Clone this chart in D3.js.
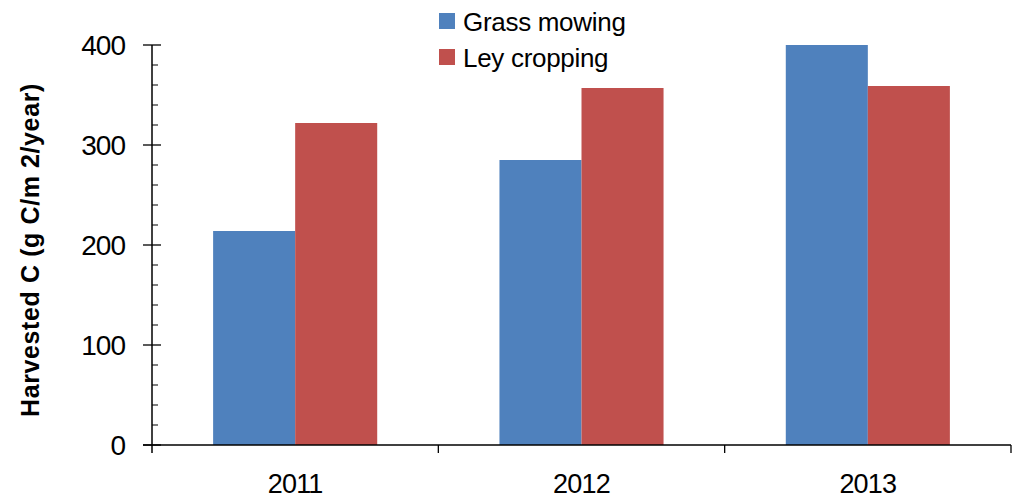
<!DOCTYPE html>
<meta charset="utf-8">
<head>
  <title>Harvested C</title>
</head>
<style>
body {
  margin: 0;
  background: #fff;
  font-family: "Liberation Sans", Arial, sans-serif;
}
</style>
<body>
  <div id="chart"></div>
  <script src="https://cdn.jsdelivr.net/npm/d3@7"></script>
  <script>

// data
var years = ['2011', '2012', '2013'];
var seriesNames = ['Grass mowing', 'Ley cropping'];
var grassMowing = [214, 285, 400];
var leyCropping = [322, 357, 359];
var yTicks = [0, 100, 200, 300, 400];
var colors = ['#4F81BD', '#C0504D'];

var width = 1018, height = 498;
var margin = {top: 45, right: 7, bottom: 53, left: 152};

var svg = d3.select('#chart').append('svg')
  .attr('width', width)
  .attr('height', height);

var x = d3.scaleBand()
  .domain(years)
  .range([margin.left, width - margin.right])
  .paddingInner(0)
  .paddingOuter(0);

var inner = d3.scaleBand()
  .domain(seriesNames)
  .range([0, x.bandwidth()])
  .paddingInner(0)
  .paddingOuter(0.745);

var y = d3.scaleLinear()
  .domain([0, 400])
  .range([height - margin.bottom, margin.top]);

var rows = years.map(function(yr, i) {
  return {year: yr, values: [grassMowing[i], leyCropping[i]]};
});

// bars
var groups = svg.selectAll('g.year')
  .data(rows)
  .enter().append('g')
  .attr('class', 'year')
  .attr('transform', function(d) { return 'translate(' + x(d.year) + ',0)'; });

groups.selectAll('rect')
  .data(function(d) { return d.values.map(function(v, j) { return {name: seriesNames[j], value: v, j: j}; }); })
  .enter().append('rect')
  .attr('x', function(d) { return inner(d.name); })
  .attr('width', inner.bandwidth())
  .attr('y', function(d) { return y(d.value); })
  .attr('height', function(d) { return y(0) - y(d.value); })
  .attr('fill', function(d) { return colors[d.j]; });

// y axis with minor ticks
var yAxis = svg.append('g')
  .attr('transform', 'translate(' + margin.left + ',0)');

yAxis.append('line')
  .attr('y1', y(0) + 8).attr('y2', y(400))
  .attr('stroke', '#000').attr('stroke-width', 1.5);

yAxis.selectAll('line.minor')
  .data(d3.range(0, 401, 20).filter(function(v) { return v % 100 !== 0; }))
  .enter().append('line')
  .attr('class', 'minor')
  .attr('x1', 0).attr('x2', 6)
  .attr('y1', function(d) { return y(d); })
  .attr('y2', function(d) { return y(d); })
  .attr('stroke', '#000');

yAxis.selectAll('line.major')
  .data(yTicks)
  .enter().append('line')
  .attr('class', 'major')
  .attr('x1', -9).attr('x2', 9)
  .attr('y1', function(d) { return y(d); })
  .attr('y2', function(d) { return y(d); })
  .attr('stroke', '#000').attr('stroke-width', 1.3);

yAxis.selectAll('text')
  .data(yTicks)
  .enter().append('text')
  .attr('x', -27)
  .attr('y', function(d) { return y(d); })
  .attr('dy', '0.36em')
  .attr('text-anchor', 'end')
  .attr('font-size', 28)
  .attr('letter-spacing', -1)
  .text(function(d) { return d; });

// x axis
var xAxis = svg.append('g');

xAxis.append('line')
  .attr('x1', margin.left - 9).attr('x2', width - margin.right)
  .attr('y1', y(0)).attr('y2', y(0))
  .attr('stroke', '#000').attr('stroke-width', 1.5);

var xEdges = years.map(function(d) { return x(d); })
  .concat([x(years[years.length - 1]) + x.bandwidth()]);

xAxis.selectAll('line.tick')
  .data(xEdges.slice(1))
  .enter().append('line')
  .attr('class', 'tick')
  .attr('x1', function(d) { return d; })
  .attr('x2', function(d) { return d; })
  .attr('y1', y(0)).attr('y2', y(0) + 8)
  .attr('stroke', '#000').attr('stroke-width', 1.3);

xAxis.selectAll('text')
  .data(years)
  .enter().append('text')
  .attr('x', function(d) { return x(d) + x.bandwidth() / 2; })
  .attr('y', 493)
  .attr('text-anchor', 'middle')
  .attr('font-size', 27)
  .attr('letter-spacing', -0.8)
  .text(function(d) { return d; });

// y label
svg.append('text')
  .attr('transform', 'translate(39,' + 250 + ') rotate(-90)')
  .attr('text-anchor', 'middle')
  .attr('font-size', 25)
  .attr('font-weight', 'bold')
  .attr('letter-spacing', 0.6)
  .text('Harvested C (g C/m 2/year)');

// legend
var legend = svg.selectAll('g.legend')
  .data(seriesNames)
  .enter().append('g')
  .attr('class', 'legend')
  .attr('transform', function(d, i) { return 'translate(439,' + (13 + i * 36) + ')'; });

legend.append('rect')
  .attr('width', 16).attr('height', 16)
  .attr('fill', function(d, i) { return colors[i]; });

legend.append('text')
  .attr('x', 24)
  .attr('y', 18)
  .attr('font-size', 26)
  .attr('letter-spacing', -0.3)
  .text(function(d) { return d; });
</script>
</body>
</html>
